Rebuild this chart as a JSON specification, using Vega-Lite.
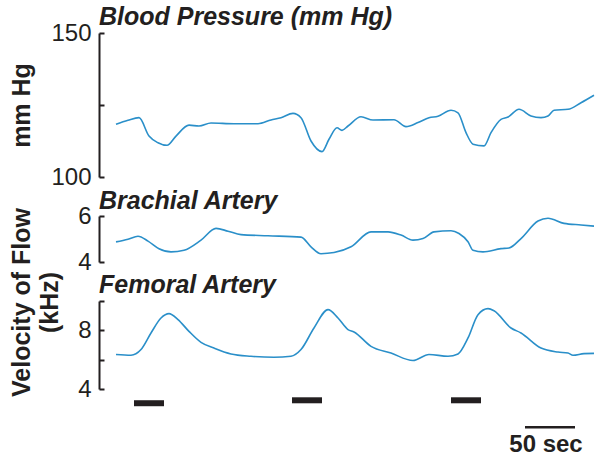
{
  "$schema": "https://vega.github.io/schema/vega-lite/v6.json",
  "padding": {"left": 8, "top": 4, "right": 0, "bottom": 0},
  "background": "white",
  "spacing": 39,
  "bounds": "flush",
  "config": {
    "view": {"stroke": null},
    "font": "Liberation Sans",
    "text": {"color": "#231f20"},
    "axis": {"grid": false, "labelOverlap": false, "domainColor": "#231f20", "domainWidth": 2, "tickColor": "#231f20", "tickWidth": 2, "tickSize": -5, "labelFontSize": 24, "labelColor": "#231f20", "labelPadding": 13, "titleFontSize": 25, "titleColor": "#231f20", "titleFontWeight": "bold", "titleX": -70, "titleBaseline": "alphabetic", "titleLineHeight": 28}
  },
  "datasets": {
    "bp": [
      {"t": 17, "v": 118.3}, {"t": 29, "v": 119.7}, {"t": 40, "v": 120.6}, {"t": 50, "v": 114.2}, {"t": 59, "v": 111.9}, {"t": 68, "v": 111.0}, {"t": 77, "v": 114.2}, {"t": 90, "v": 118.0}, {"t": 100, "v": 117.7}, {"t": 112, "v": 118.75}, {"t": 135, "v": 118.5}, {"t": 159, "v": 118.5}, {"t": 172, "v": 119.8}, {"t": 182, "v": 120.6}, {"t": 194, "v": 122.1}, {"t": 202, "v": 120.6}, {"t": 212, "v": 112.5}, {"t": 223, "v": 108.8}, {"t": 230, "v": 113.1}, {"t": 238, "v": 117.1}, {"t": 243, "v": 116.2}, {"t": 249, "v": 117.7}, {"t": 262, "v": 120.9}, {"t": 274, "v": 119.8}, {"t": 295, "v": 119.9}, {"t": 307, "v": 117.5}, {"t": 319, "v": 118.9}, {"t": 330, "v": 120.6}, {"t": 339, "v": 121.1}, {"t": 352, "v": 123.2}, {"t": 359, "v": 122.3}, {"t": 367, "v": 115.4}, {"t": 374, "v": 111.4}, {"t": 385, "v": 110.8}, {"t": 392, "v": 115.4}, {"t": 402, "v": 120.0}, {"t": 409, "v": 120.8}, {"t": 420, "v": 123.5}, {"t": 432, "v": 121.2}, {"t": 442, "v": 120.6}, {"t": 449, "v": 121.2}, {"t": 455, "v": 123.2}, {"t": 469, "v": 123.5}, {"t": 482, "v": 125.8}, {"t": 495, "v": 128.4}
    ],
    "brach": [
      {"t": 17, "v": 4.875}, {"t": 29, "v": 4.99}, {"t": 39, "v": 5.12}, {"t": 49, "v": 4.91}, {"t": 60, "v": 4.58}, {"t": 72, "v": 4.44}, {"t": 85, "v": 4.51}, {"t": 102, "v": 4.95}, {"t": 117, "v": 5.46}, {"t": 129, "v": 5.34}, {"t": 142, "v": 5.19}, {"t": 169, "v": 5.14}, {"t": 202, "v": 5.08}, {"t": 212, "v": 4.66}, {"t": 222, "v": 4.36}, {"t": 235, "v": 4.41}, {"t": 252, "v": 4.66}, {"t": 272, "v": 5.31}, {"t": 289, "v": 5.31}, {"t": 302, "v": 5.17}, {"t": 314, "v": 4.95}, {"t": 324, "v": 5.02}, {"t": 335, "v": 5.31}, {"t": 352, "v": 5.36}, {"t": 360, "v": 5.24}, {"t": 369, "v": 4.88}, {"t": 374, "v": 4.51}, {"t": 384, "v": 4.44}, {"t": 402, "v": 4.58}, {"t": 410, "v": 4.61}, {"t": 422, "v": 5.02}, {"t": 439, "v": 5.78}, {"t": 449, "v": 5.9}, {"t": 465, "v": 5.68}, {"t": 482, "v": 5.61}, {"t": 495, "v": 5.56}
    ],
    "fem": [
      {"t": 17, "v": 6.35}, {"t": 32, "v": 6.30}, {"t": 42, "v": 6.69}, {"t": 52, "v": 7.82}, {"t": 62, "v": 8.84}, {"t": 70, "v": 9.14}, {"t": 79, "v": 8.73}, {"t": 90, "v": 7.93}, {"t": 102, "v": 7.18}, {"t": 115, "v": 6.79}, {"t": 132, "v": 6.39}, {"t": 152, "v": 6.23}, {"t": 175, "v": 6.16}, {"t": 192, "v": 6.23}, {"t": 202, "v": 6.69}, {"t": 215, "v": 8.16}, {"t": 229, "v": 9.41}, {"t": 239, "v": 8.84}, {"t": 249, "v": 8.05}, {"t": 255, "v": 7.89}, {"t": 272, "v": 6.91}, {"t": 292, "v": 6.45}, {"t": 314, "v": 5.94}, {"t": 330, "v": 6.35}, {"t": 349, "v": 6.23}, {"t": 359, "v": 6.39}, {"t": 369, "v": 7.48}, {"t": 379, "v": 9.07}, {"t": 389, "v": 9.48}, {"t": 395, "v": 9.34}, {"t": 412, "v": 8.16}, {"t": 422, "v": 7.82}, {"t": 442, "v": 6.79}, {"t": 459, "v": 6.52}, {"t": 469, "v": 6.45}, {"t": 474, "v": 6.30}, {"t": 485, "v": 6.41}, {"t": 495, "v": 6.43}
    ],
    "t1": [{"t": 0, "v": 152.8, "label": "Blood Pressure (mm Hg)"}],
    "t2": [{"t": 0, "v": 6.31, "label": "Brachial Artery"}],
    "t3": [{"t": 0, "v": 10.55, "label": "Femoral Artery"}],
    "stim": [
      {"t": 35, "t1": 65, "v": 3.03}, {"t": 193, "t1": 223, "v": 3.23}, {"t": 352, "t1": 382, "v": 3.23}
    ],
    "scalebar": [{"t": 426, "t1": 476, "v": 1.39}],
    "scalelabel": [{"t": 447, "v": -0.31, "label": "50 sec"}]
  },
  "vconcat": [
    {
      "width": 500, "height": 144,
      "encoding": {
        "x": {"field": "t", "type": "quantitative", "scale": {"domain": [0, 500], "nice": false}, "axis": null},
        "y": {"field": "v", "type": "quantitative", "scale": {"domain": [100, 150], "nice": false, "zero": false},
              "axis": {"title": "mm Hg", "values": [100, 125, 150], "labelExpr": "datum.value == 125 ? '' : datum.label"}}
      },
      "layer": [
        {
          "data": {"name": "bp"},
          "mark": {"type": "line", "interpolate": "monotone", "color": "#2a8fc9", "strokeWidth": 1.6}
        },
        {
          "data": {"name": "t1"},
          "mark": {"type": "text", "fontSize": 25, "fontStyle": "italic", "fontWeight": "bold", "align": "left", "baseline": "alphabetic"},
          "encoding": {"text": {"field": "label"}}
        }
      ]
    },
    {
      "width": 500, "height": 46,
      "encoding": {
        "x": {"field": "t", "type": "quantitative", "scale": {"domain": [0, 500], "nice": false}, "axis": null},
        "y": {"field": "v", "type": "quantitative", "scale": {"domain": [4, 6], "nice": false, "zero": false},
              "axis": {"title": null, "values": [4, 6]}}
      },
      "layer": [
        {
          "data": {"name": "brach"},
          "mark": {"type": "line", "interpolate": "monotone", "color": "#2a8fc9", "strokeWidth": 1.6}
        },
        {
          "data": {"name": "t2"},
          "mark": {"type": "text", "fontSize": 25, "fontStyle": "italic", "fontWeight": "bold", "align": "left", "baseline": "alphabetic"},
          "encoding": {"text": {"field": "label"}}
        }
      ]
    },
    {
      "width": 500, "height": 88,
      "encoding": {
        "x": {"field": "t", "type": "quantitative", "scale": {"domain": [0, 500], "nice": false}, "axis": null},
        "y": {"field": "v", "type": "quantitative", "scale": {"domain": [4, 10], "nice": false, "zero": false},
              "axis": {"title": ["Velocity of Flow", "(kHz)"], "titleY": 1, "values": [4, 6, 8, 10], "labelExpr": "datum.value == 4 || datum.value == 8 ? datum.label : ''"}}
      },
      "layer": [
        {
          "data": {"name": "fem"},
          "mark": {"type": "line", "interpolate": "monotone", "color": "#2a8fc9", "strokeWidth": 1.6}
        },
        {
          "data": {"name": "t3"},
          "mark": {"type": "text", "fontSize": 25, "fontStyle": "italic", "fontWeight": "bold", "align": "left", "baseline": "alphabetic"},
          "encoding": {"text": {"field": "label"}}
        },
        {
          "data": {"name": "stim"},
          "mark": {"type": "rule", "color": "#231f20", "strokeWidth": 6, "strokeCap": "butt"},
          "encoding": {"x2": {"field": "t1"}}
        },
        {
          "data": {"name": "scalebar"},
          "mark": {"type": "rule", "color": "#231f20", "strokeWidth": 2.5, "strokeCap": "butt"},
          "encoding": {"x2": {"field": "t1"}}
        },
        {
          "data": {"name": "scalelabel"},
          "mark": {"type": "text", "fontSize": 24, "fontWeight": "bold", "baseline": "alphabetic", "align": "center"},
          "encoding": {"text": {"field": "label"}}
        }
      ]
    }
  ]
}
